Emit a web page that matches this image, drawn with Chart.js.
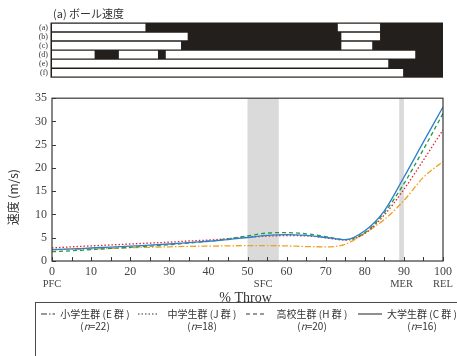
<!DOCTYPE html>
<html>
<head>
<meta charset="utf-8">
<script src="https://cdn.jsdelivr.net/npm/chart.js@4.4.1/dist/chart.umd.min.js"></script>
<style>
  html, body { margin: 0; padding: 0; width: 457px; height: 356px; overflow: hidden; background: #fff; }
  #phases { position: absolute; left: 0; top: 0; }
  #speed { position: absolute; left: 0; top: 86px; }
  #legend {
    position: absolute; left: 35px; top: 302px; width: 440px; height: 70px;
    border: 1px solid #4a4a4a; box-sizing: border-box;
    font-family: "Noto Sans CJK JP", sans-serif; font-size: 10px; color: #333;
  }
  #legend svg { position: absolute; top: 9px; }
  #legend .txt { position: absolute; top: 5px; width: 74px; text-align: center; line-height: 12px; white-space: nowrap; }
</style>
</head>
<body>
<canvas id="phases" width="457" height="86"></canvas>
<canvas id="speed" width="457" height="225"></canvas>
<div id="legend"></div>
<script>
// % Throw sample points
const pct = [0, 5, 10, 15, 20, 25, 30, 35, 40, 45, 50, 55, 60, 65, 70, 75, 80, 85, 90, 95, 100]

// ball speed (m/s) per group
const elemSpeed = [2.45, 2.5, 2.55, 2.7, 2.85, 2.95, 3.05, 3.15, 3.2, 3.25, 3.3, 3.3, 3.25, 3.1, 3.05, 3.6, 6.0, 8.9, 13.0, 18.0, 21.4]
const juniorSpeed = [2.8, 3.05, 3.25, 3.45, 3.65, 3.85, 4.05, 4.3, 4.5, 4.8, 5.1, 5.35, 5.45, 5.4, 5.0, 4.5, 5.9, 9.9, 15.4, 21.7, 28.2]
const highSpeed = [2.0, 2.2, 2.45, 2.7, 2.95, 3.2, 3.5, 3.85, 4.25, 4.75, 5.4, 6.0, 6.1, 5.85, 5.25, 4.6, 6.1, 10.4, 16.6, 24.0, 31.7]
const collegeSpeed = [2.45, 2.6, 2.8, 3.0, 3.2, 3.4, 3.65, 3.95, 4.25, 4.6, 5.05, 5.5, 5.65, 5.5, 5.05, 4.6, 6.5, 10.8, 18.0, 25.6, 33.1]

const groupNames = ["小学生群 (E 群 )", "中学生群 (J 群 )", "高校生群 (H 群 )", "大学生群 (C 群 )"]
const groupCounts = [22, 18, 20, 16]

// phase markers on the % Throw axis
const eventNames = ["PFC", "SFC", "MER", "REL"]
const eventAt = [0, 54, 89.4, 100]
const bands = [[50, 58], [88.8, 90]]

// top strip rows (a)-(f): white spans in % Throw
const rowLabels = ["(a)", "(b)", "(c)", "(d)", "(e)", "(f)"]
const spanOne = [[0, 23.9], [0, 34.7], [0, 33.0], [0, 10.9], [0, 86.0], [0, 89.8]]
const spanTwo = [[73.1, 83.9], [74.0, 83.9], [74.0, 81.9], [17.1, 27.1], null, null]
const spanThree = [null, null, null, [29.1, 92.9], null, null]

const serif = "'Liberation Serif', serif"
const jp = "'Noto Sans CJK JP', sans-serif"
const ink = '#3a3636'

// ---------- top strip ----------
const stripBackground = {
  id: 'stripBackground',
  beforeDatasetsDraw(chart) {
    const { ctx, chartArea: a } = chart
    ctx.save()
    ctx.fillStyle = '#231f1c'
    ctx.fillRect(a.left - 1.5, a.top - 0.5, a.right - a.left + 1.5, a.bottom - a.top + 1)
    ctx.restore()
  },
  afterDraw(chart) {
    const { ctx, chartArea: a } = chart
    ctx.save()
    ctx.fillStyle = '#333'
    ctx.font = `11px ${jp}`
    ctx.textBaseline = 'middle'
    ctx.fillText('(a) ボール速度', a.left + 1, 14)
    ctx.restore()
  }
}

const stripSet = (data) => ({
  data: data,
  backgroundColor: '#ffffff',
  borderWidth: 0,
  grouped: false,
  barPercentage: 0.84,
  categoryPercentage: 1
})

new Chart(document.getElementById('phases'), {
  type: 'bar',
  data: {
    labels: rowLabels,
    datasets: [stripSet(spanOne), stripSet(spanTwo), stripSet(spanThree)]
  },
  options: {
    indexAxis: 'y',
    responsive: false,
    animation: false,
    layout: { padding: { left: 0, right: 14, top: 23, bottom: 7 } },
    plugins: { legend: { display: false }, tooltip: { enabled: false } },
    scales: {
      x: { type: 'linear', min: 0, max: 100, display: false },
      y: {
        grid: { display: false, drawTicks: false },
        border: { display: false },
        ticks: { autoSkip: false, color: '#333', font: { family: serif, size: 8 }, padding: 4 },
        afterFit(scale) { scale.width = 52 }
      }
    }
  },
  plugins: [stripBackground]
})

// ---------- speed chart ----------
const speedDecor = {
  id: 'speedDecor',
  beforeDatasetsDraw(chart) {
    const { ctx, chartArea: a, scales: { x } } = chart
    ctx.save()
    ctx.fillStyle = '#d9dad9'
    bands.forEach(([s, e]) => {
      const x0 = x.getPixelForValue(s)
      const x1 = x.getPixelForValue(e)
      ctx.fillRect(x0, a.top, x1 - x0, a.bottom - a.top)
    })
    ctx.restore()
  },
  afterDraw(chart) {
    const { ctx, chartArea: a, scales: { x, y } } = chart
    ctx.save()
    ctx.strokeStyle = ink
    ctx.lineWidth = 1.2
    ctx.strokeRect(a.left, a.top, a.right - a.left, a.bottom - a.top)

    // inside tick marks
    ctx.lineWidth = 1
    ctx.beginPath()
    x.ticks.forEach(t => {
      const px = Math.round(x.getPixelForValue(t.value)) + 0.5
      ctx.moveTo(px, a.bottom)
      ctx.lineTo(px, a.bottom - 4)
    })
    y.ticks.forEach(t => {
      const py = Math.round(y.getPixelForValue(t.value)) + 0.5
      ctx.moveTo(a.left, py)
      ctx.lineTo(a.left + 4, py)
    })
    ctx.stroke()

    // phase names under the ticks
    ctx.fillStyle = '#444'
    ctx.textAlign = 'center'
    ctx.textBaseline = 'middle'
    ctx.font = `10.5px ${serif}`
    eventNames.forEach((n, i) => {
      ctx.fillText(n, x.getPixelForValue(eventAt[i]), a.bottom + 23)
    })

    // axis titles
    ctx.fillStyle = '#333'
    ctx.font = `14px ${serif}`
    ctx.fillText('% Throw', (a.left + a.right) / 2 - 2, a.bottom + 37)

    ctx.translate(13, a.top + 99)
    ctx.rotate(-Math.PI / 2)
    ctx.font = `12px ${jp}`
    ctx.fillText('速度 (m/s)', 0, 0)
    ctx.restore()
  }
}

const series = (label, values, color, dash) => ({
  label: label,
  data: pct.map((p, i) => ({ x: p, y: values[i] })),
  borderColor: color,
  borderWidth: 1.3,
  borderDash: dash,
  pointRadius: 0,
  fill: false,
  cubicInterpolationMode: 'monotone'
})

new Chart(document.getElementById('speed'), {
  type: 'line',
  data: {
    datasets: [
      series(groupNames[3], collegeSpeed, '#2f7fc8', []),
      series(groupNames[2], highSpeed, '#1e9a50', [4, 3]),
      series(groupNames[1], juniorSpeed, '#e5252f', [1.5, 2]),
      series(groupNames[0], elemSpeed, '#f2a024', [6, 2, 1.5, 2])
    ]
  },
  options: {
    responsive: false,
    animation: false,
    layout: { padding: { left: 0, right: 14, top: 8, bottom: 0 } },
    plugins: { legend: { display: false }, tooltip: { enabled: false } },
    scales: {
      x: {
        type: 'linear', min: 0, max: 100,
        grid: { display: false, drawTicks: false },
        border: { display: false },
        ticks: {
          stepSize: 5, autoSkip: false, maxRotation: 0, padding: 4,
          color: '#444', font: { family: serif, size: 12 },
          callback: v => (v % 10 === 0 ? String(v) : '')
        },
        afterFit(scale) { scale.height = 50 }
      },
      y: {
        min: 0, max: 35,
        grid: { display: false, drawTicks: false },
        border: { display: false },
        ticks: { stepSize: 5, padding: 5, color: '#444', font: { family: serif, size: 12 } },
        afterFit(scale) { scale.width = 52 }
      }
    }
  },
  plugins: [speedDecor]
})

// ---------- legend ----------
const legendDash = ['6,2,1.5,2', '1.5,2', '4,3', '']
const sampleLeft = [5, 102, 210, 322]
const sampleWidth = [14, 20, 21, 24]
const textLeft = [22, 129, 239, 349]
const legend = document.getElementById('legend')
groupNames.forEach((name, i) => {
  const w = sampleWidth[i]
  legend.insertAdjacentHTML('beforeend',
    `<svg style="left:${sampleLeft[i]}px" width="${w}" height="4">` +
    `<line x1="0" y1="2" x2="${w}" y2="2" stroke="#333" stroke-width="1.1" stroke-dasharray="${legendDash[i]}"/></svg>` +
    `<div class="txt" style="left:${textLeft[i]}px">${name}<br>(<i>n</i>=${groupCounts[i]})</div>`)
})
</script>
</body>
</html>
